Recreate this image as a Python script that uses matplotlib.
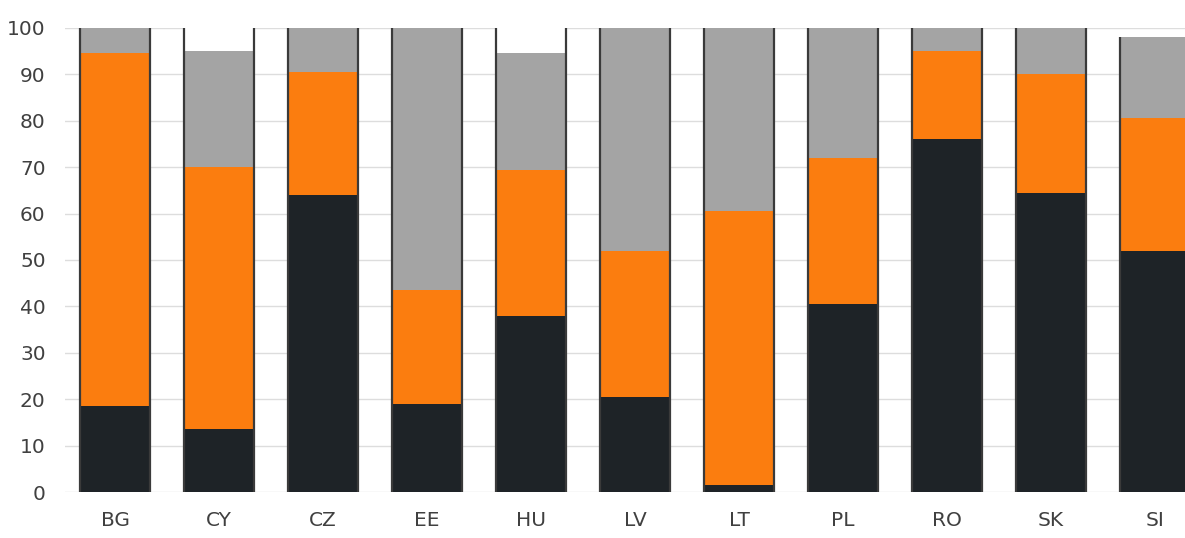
import matplotlib
matplotlib.use("Agg")
import matplotlib.pyplot as plt
import numpy as np

categorias = ["BG", "CY", "CZ", "EE", "HU", "LV", "LT", "PL", "RO", "SK", "SI"]
negro = [18.5, 13.5, 64.0, 19.0, 38.0, 20.5, 1.5, 40.5, 76.0, 64.5, 52.0]
naranja = [76.0, 56.5, 26.5, 24.5, 31.5, 31.5, 59.0, 31.5, 19.0, 25.5, 28.5]
gris = [5.5, 25.0, 9.5, 56.5, 25.0, 48.0, 39.5, 28.0, 5.0, 10.0, 17.5]
blanco = [0.0, 5.0, 0.0, 0.0, 5.5, 0.0, 0.0, 0.0, 0.0, 0.0, 0.0]

colores = ["#1e2327", "#fb7d0f", "#a4a4a4", "#ffffff"]

fig = plt.figure(figsize=(11.85, 5.38), dpi=100)
ax = fig.add_axes([0.055, 0.0855, 0.945, 0.8625])

x = np.arange(len(categorias))
ancho = 0.67
base = np.zeros(len(categorias))
for serie, color in zip([negro, naranja, gris, blanco], colores):
    ax.bar(x, serie, ancho, bottom=base, color=color, edgecolor="none", zorder=2,
           clip_on=False)
    base += np.array(serie)

# lineas laterales de cada barra
ax.vlines(np.concatenate([x - ancho / 2, x + ancho / 2]), 0, np.concatenate([base, base]),
          color="#3a3a3a", linewidth=1.6, zorder=3, clip_on=False)

ax.set_xlim(-0.48, 10.29)
ax.set_ylim(0, 100)
ax.set_yticks(np.arange(0, 101, 10))
ax.set_xticks(x)
ax.set_xticklabels(categorias)
ax.tick_params(length=0, labelsize=14.5, colors="#404040")
ax.tick_params(axis="x", pad=14)
ax.tick_params(axis="y", pad=14)
ax.grid(axis="y", color="#dddddd", linewidth=1, zorder=0)
for s in ax.spines.values():
    s.set_visible(False)

plt.savefig("out.png", dpi=100)
